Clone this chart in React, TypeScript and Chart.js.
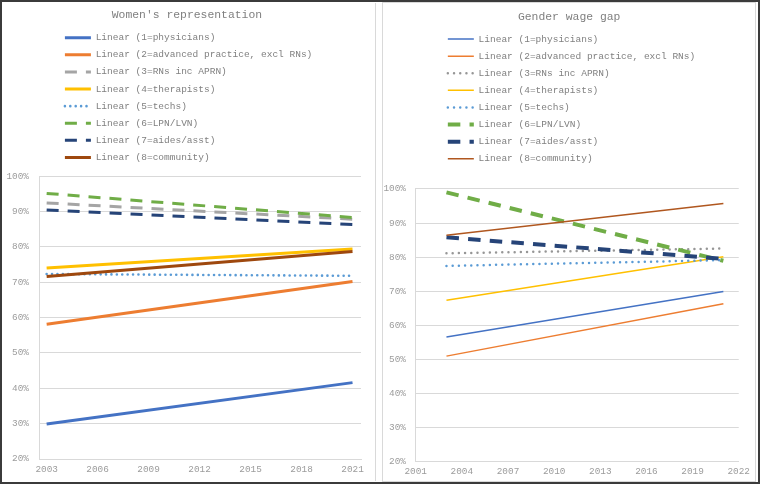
import { useEffect, useRef } from "react";
import { Chart, registerables } from "chart.js";

Chart.register(...registerables);

const FONT = "'Liberation Mono', 'Courier New', monospace";
const GRID = "#d9d9d9";
const TICK_COLOR = "#9c9c9c";
const TEXT_COLOR = "#808080";

const SERIES = [
  "Linear (1=physicians)",
  "Linear (2=advanced practice, excl RNs)",
  "Linear (3=RNs inc APRN)",
  "Linear (4=therapists)",
  "Linear (5=techs)",
  "Linear (6=LPN/LVN)",
  "Linear (7=aides/asst)",
  "Linear (8=community)",
];

// trendline end points (first and last year)
const TREND_YEARS = [2003, 2021];
const representationStart = [29.9, 58.1, 92.4, 74.0, 72.3, 95.1, 90.4, 71.6];
const representationEnd = [41.6, 70.2, 87.8, 79.4, 71.8, 88.3, 86.3, 78.7];
const wageGapStart = [56.5, 50.9, 81.1, 67.3, 77.4, 99.0, 85.8, 86.4];
const wageGapEnd = [69.9, 66.3, 82.5, 80.1, 79.1, 78.9, 79.5, 95.7];

const LEFT_YEAR_TICKS = [2003, 2006, 2009, 2012, 2015, 2018, 2021];
const RIGHT_YEAR_TICKS = [2001, 2004, 2007, 2010, 2013, 2016, 2019, 2022];
const PCT_TICKS = [20, 30, 40, 50, 60, 70, 80, 90, 100];

type LineStyle = { color: string; width: number; dash: number[]; cap: CanvasLineCap };

const line = (color: string, width: number, dash: number[] = [], cap: CanvasLineCap = "butt"): LineStyle => ({
  color,
  width,
  dash,
  cap,
});

const leftStyles = [
  line("#4472c4", 3),
  line("#ed7d31", 3),
  line("#a5a5a5", 3, [12, 9]),
  line("#ffc000", 3),
  line("#5b9bd5", 2.6, [0, 5.4], "round"),
  line("#70ad47", 3, [12, 9]),
  line("#264478", 3, [12, 9]),
  line("#9e480e", 3),
];

const rightStyles = [
  line("#4472c4", 1.5),
  line("#ed7d31", 1.5),
  line("#969696", 2.5, [0, 6.2], "round"),
  line("#ffc000", 1.5),
  line("#5b9bd5", 2.5, [0, 6.2], "round"),
  line("#70ad47", 4, [12.5, 9.2]),
  line("#264478", 4, [12.5, 9.2]),
  line("#b0571f", 1.5),
];

type Fit = {
  padLeft: number;
  padRight: number;
  titleTop: number;
  titleBottom: number;
  gap: number;
  legendChars: number;
  yWidth: number;
  yPad: number;
  xHeight: number;
  xPad: number;
};

const LEFT_FIT: Fit = {
  padLeft: 3, padRight: 14, titleTop: 5.2, titleBottom: 3.5, gap: 3.9,
  legendChars: 42, yWidth: 33, yPad: 10, xHeight: 22, xPad: 5,
};
const RIGHT_FIT: Fit = {
  padLeft: 0, padRight: 13.3, titleTop: 6.9, titleBottom: 3.1, gap: 15.5,
  legendChars: 40, yWidth: 32.7, yPad: 9.7, xHeight: 19.7, xPad: 5,
};

type PanelProps = {
  title: string;
  start: number[];
  end: number[];
  styles: LineStyle[];
  xMin: number;
  xMax: number;
  xTicks: number[];
  fit: Fit;
};

function TrendPanel({ title, start, end, styles, xMin, xMax, xTicks, fit }: PanelProps) {
  const canvasRef = useRef<HTMLCanvasElement>(null);
  const chartRef = useRef<Chart | null>(null);

  useEffect(() => {
    if (!canvasRef.current) return;
    if (chartRef.current) chartRef.current.destroy();

    chartRef.current = new Chart(canvasRef.current, {
      type: "line",
      data: {
        datasets: SERIES.map((label, i) => ({
          label,
          data: [
            { x: TREND_YEARS[0], y: start[i] },
            { x: TREND_YEARS[1], y: end[i] },
          ],
          borderColor: styles[i].color,
          backgroundColor: styles[i].color,
          borderWidth: styles[i].width,
          borderDash: styles[i].dash,
          borderCapStyle: styles[i].cap,
          pointRadius: 0,
          order: SERIES.length - i, // later series on top, like Excel
        })),
      },
      options: {
        responsive: false,
        animation: false,
        events: [],
        layout: { padding: { left: fit.padLeft, right: fit.padRight } },
        plugins: {
          title: {
            display: true,
            text: title,
            color: TEXT_COLOR,
            font: { family: FONT, size: 11.4, weight: "normal" },
            padding: { top: fit.titleTop, bottom: fit.titleBottom },
          },
          // empty spacer between legend and plot area
          subtitle: {
            display: true,
            text: "",
            weight: 500,
            font: { size: 1, lineHeight: 1 },
            padding: { top: fit.gap - 1, bottom: 0 },
          },
          legend: {
            position: "top",
            align: "center",
            fullSize: false,
            labels: {
              usePointStyle: true,
              pointStyle: "line",
              pointStyleWidth: 26,
              padding: 7.6,
              color: TEXT_COLOR,
              font: { family: FONT, size: 9.5 },
              generateLabels: (chart: Chart) =>
                chart.data.datasets.map((ds: any, i: number) => ({
                  // pad so every entry gets its own row
                  text: String(ds.label).padEnd(fit.legendChars, " "),
                  strokeStyle: ds.borderColor,
                  fillStyle: ds.borderColor,
                  lineWidth: ds.borderWidth,
                  lineDash: ds.borderDash,
                  lineCap: ds.borderCapStyle,
                  pointStyle: "line",
                  fontColor: TEXT_COLOR,
                  hidden: false,
                  datasetIndex: i,
                })),
            },
          },
          tooltip: { enabled: false },
        },
        scales: {
          x: {
            type: "linear",
            min: xMin,
            max: xMax,
            afterBuildTicks: (scale: any) => {
              scale.ticks = xTicks.map((value) => ({ value }));
            },
            grid: { display: false, drawTicks: false },
            border: { display: true, color: GRID },
            ticks: {
              color: TICK_COLOR,
              font: { family: FONT, size: 9.4 },
              padding: fit.xPad,
              maxRotation: 0,
              autoSkip: false,
              callback: (v: any) => String(v),
            },
            afterFit: (scale: any) => {
              scale.height = fit.xHeight;
            },
          },
          y: {
            type: "linear",
            min: 20,
            max: 100,
            afterBuildTicks: (scale: any) => {
              scale.ticks = PCT_TICKS.map((value) => ({ value }));
            },
            grid: { color: GRID, drawTicks: false },
            border: { display: true, color: GRID },
            ticks: {
              color: TICK_COLOR,
              font: { family: FONT, size: 9.4 },
              padding: fit.yPad,
              callback: (v: any) => `${v}%`,
            },
            afterFit: (scale: any) => {
              scale.width = fit.yWidth;
            },
          },
        },
      },
    } as any);

    return () => {
      if (chartRef.current) {
        chartRef.current.destroy();
        chartRef.current = null;
      }
    };
  }, []);

  return <canvas ref={canvasRef} width={372} height={478} style={{ display: "block" }} />;
}

export default function App() {
  return (
    <div
      style={{
        position: "absolute",
        left: 0,
        top: 0,
        width: 760,
        height: 484,
        boxSizing: "border-box",
        border: "2px solid #3b3b3b",
        background: "#fff",
      }}
    >
      <div style={{ position: "absolute", left: 1, top: 1, width: 372, height: 478, borderRight: `1px solid ${GRID}` }}>
        <TrendPanel
          title=" Women's representation"
          start={representationStart}
          end={representationEnd}
          styles={leftStyles}
          xMin={2002.55}
          xMax={2021.5}
          xTicks={LEFT_YEAR_TICKS}
          fit={LEFT_FIT}
        />
      </div>
      <div
        style={{
          position: "absolute",
          left: 380,
          top: 0,
          width: 374,
          height: 480,
          boxSizing: "border-box",
          border: `1px solid ${GRID}`,
        }}
      >
        <TrendPanel
          title="  Gender wage gap"
          start={wageGapStart}
          end={wageGapEnd}
          styles={rightStyles}
          xMin={2001}
          xMax={2022}
          xTicks={RIGHT_YEAR_TICKS}
          fit={RIGHT_FIT}
        />
      </div>
    </div>
  );
}
